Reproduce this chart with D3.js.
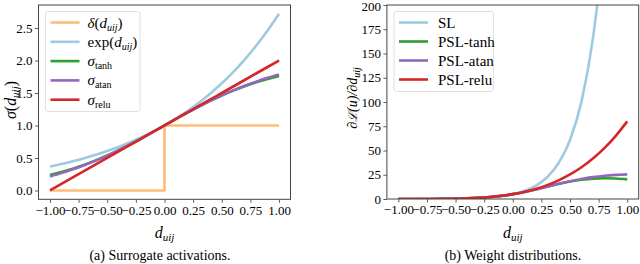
<!DOCTYPE html>
<html><head><meta charset="utf-8">
<script src="https://cdn.jsdelivr.net/npm/d3@7"></script>
<style>
body{margin:0;background:#fff;}
text{font-family:"Liberation Serif","DejaVu Serif",serif;fill:#000;}
</style></head>
<body><svg id="c" width="640" height="264"></svg>
<script>
// ---------- data ----------
const dVals = [-1.0,-0.9,-0.8,-0.7,-0.6,-0.5,-0.4,-0.3,-0.2,-0.1,0.0,0.1,0.2,0.3,0.4,0.5,0.6,0.7,0.8,0.9,1.0];
// left panel: surrogate activations
const stepX = [-1.0, 0.0, 0.0, 1.0];
const stepY = [0, 0, 1, 1];
const expVals  = [0.368,0.407,0.449,0.497,0.549,0.607,0.670,0.741,0.819,0.905,1.000,1.105,1.221,1.350,1.492,1.649,1.822,2.014,2.226,2.460,2.718];
const tanhVals = [0.238,0.284,0.336,0.396,0.463,0.538,0.620,0.709,0.803,0.900,1.000,1.100,1.197,1.291,1.380,1.462,1.537,1.604,1.664,1.716,1.762];
const atanVals = [0.215,0.267,0.325,0.389,0.460,0.536,0.620,0.708,0.803,0.900,1.000,1.100,1.197,1.292,1.381,1.464,1.540,1.611,1.675,1.733,1.785];
const reluVals = [0.0,0.1,0.2,0.3,0.4,0.5,0.6,0.7,0.8,0.9,1.0,1.1,1.2,1.3,1.4,1.5,1.6,1.7,1.8,1.9,2.0];
// right panel: weight distributions
const slW   = [0.034,0.056,0.092,0.151,0.249,0.410,0.677,1.116,1.839,3.033,5.0,8.24,13.59,22.41,36.95,60.9,100.4,165.6,273.0,450.0,742.0];
const tanhW = [0.007,0.016,0.036,0.078,0.164,0.330,0.633,1.154,2.00,3.25,5.0,7.24,9.88,12.72,15.51,17.97,19.86,21.03,21.43,21.12,20.22];
const atanW = [0.005,0.014,0.034,0.077,0.164,0.331,0.635,1.156,1.995,3.25,5.0,7.24,9.88,12.76,15.66,18.35,20.70,22.59,23.98,24.90,25.40];
const reluW = [0.0,0.0005,0.008,0.04,0.128,0.313,0.648,1.20,2.05,3.28,5.0,7.32,10.37,14.28,19.21,25.31,32.77,41.76,52.49,65.16,80.0];
const xTicks = [-1.0,-0.75,-0.5,-0.25,0.0,0.25,0.5,0.75,1.0];
const yTicksL = [0.0,0.5,1.0,1.5,2.0,2.5];
const yTicksR = [0,25,50,75,100,125,150,175,200];

const C = {step:"#ffbb78", exp:"#9ecae1", tanh:"#2ca02c", atan:"#9467bd", relu:"#d62728"};

const svg = d3.select("#c");

function panel(opt){
  const g = svg.append("g");
  const x = d3.scaleLinear().domain([-1.1,1.1]).range([opt.x0,opt.x1]);
  const y = d3.scaleLinear().domain(opt.ydom).range([opt.y1,opt.y0]);
  const cid = "clip"+opt.id;
  svg.append("clipPath").attr("id",cid).append("rect")
     .attr("x",opt.x0).attr("y",opt.y0).attr("width",opt.x1-opt.x0).attr("height",opt.y1-opt.y0);
  const lines = g.append("g").attr("clip-path",`url(#${cid})`);
  const line = d3.line().x(d=>x(d[0])).y(d=>y(d[1]));
  opt.series.forEach(s=>{
    const pts = s.xs.map((v,i)=>[v,s.ys[i]]);
    lines.append("path").datum(pts)
      .attr("d", line.curve(s.curve||d3.curveMonotoneX))
      .attr("fill","none").attr("stroke",s.color).attr("stroke-width",2.6)
      .attr("stroke-linejoin","round").attr("stroke-linecap","butt");
  });
  // axes
  const xa = g.append("g").attr("transform",`translate(0,${opt.y1})`)
    .call(d3.axisBottom(x).tickValues(xTicks).tickFormat(d3.format(".2f")).tickSizeInner(3.5).tickSizeOuter(0).tickPadding(2.5));
  const ya = g.append("g").attr("transform",`translate(${opt.x0},0)`)
    .call(d3.axisLeft(y).tickValues(opt.yticks).tickFormat(opt.yfmt).tickSizeInner(3.5).tickSizeOuter(0).tickPadding(2.5));
  [xa,ya].forEach(a=>{
    a.select(".domain").remove();
    a.selectAll("line").attr("stroke","#333").attr("stroke-width",0.8);
    a.selectAll("text").attr("font-size",13).attr("fill","#111");
  });
  // keep the top y tick label inside the picture
  ya.selectAll(".tick text").filter(d=>y(d) < opt.y0+4).attr("dy","0.45em");
  g.append("rect").attr("x",opt.x0).attr("y",opt.y0).attr("width",opt.x1-opt.x0).attr("height",opt.y1-opt.y0)
    .attr("fill","none").attr("stroke","#444").attr("stroke-width",1);
  // x label d_uij
  const xl = g.append("text").attr("x",(opt.x0+opt.x1)/2).attr("y",238).attr("text-anchor","middle")
    .attr("font-size",16).attr("font-style","italic");
  xl.append("tspan").text("d");
  xl.append("tspan").attr("font-size",11).attr("dy",3).text("uij");
  // legend
  const L = opt.legend;
  g.append("rect").attr("x",L.x).attr("y",L.y).attr("width",L.w).attr("height",L.h).attr("rx",2.5)
    .attr("fill","#fff").attr("fill-opacity",0.8).attr("stroke","#d8d8d8").attr("stroke-width",0.8);
  L.items.forEach((it,i)=>{
    const yy = L.y + L.first + i*L.gap;
    g.append("line").attr("x1",L.x+5).attr("x2",L.x+34).attr("y1",yy).attr("y2",yy)
      .attr("stroke",it.color).attr("stroke-width",2.6);
    const t = g.append("text").attr("x",L.x+L.tx).attr("y",yy+5).attr("font-size",15);
    it.label(t);
  });
  return g;
}

function sub(t, main, s, italicMain){
  t.append("tspan").attr("font-style",italicMain?"italic":null).text(main);
  t.append("tspan").attr("font-size",10).attr("dy",3).text(s);
}

panel({id:"L", x0:38.5, x1:290.5, y0:5, y1:199.3, ydom:[-0.1359,2.8541],
  yticks:yTicksL, yfmt:d3.format(".1f"),
  series:[
    {xs:stepX, ys:stepY, color:C.step, curve:d3.curveLinear},
    {xs:dVals, ys:expVals, color:C.exp},
    {xs:dVals, ys:tanhVals, color:C.tanh},
    {xs:dVals, ys:atanVals, color:C.atan},
    {xs:dVals, ys:reluVals, color:C.relu}
  ],
  legend:{x:45.5, y:11.5, w:94.5, h:100, first:11, gap:19.3, tx:42, items:[
    {color:C.step, label:t=>{t.append("tspan").attr("font-style","italic").text("δ");t.append("tspan").text("(");t.append("tspan").attr("font-style","italic").text("d");t.append("tspan").attr("font-size",10).attr("font-style","italic").attr("dy",3).text("uij");t.append("tspan").attr("dy",-3).text(")");}},
    {color:C.exp, label:t=>{t.append("tspan").text("exp(");t.append("tspan").attr("font-style","italic").text("d");t.append("tspan").attr("font-size",10).attr("font-style","italic").attr("dy",3).text("uij");t.append("tspan").attr("dy",-3).text(")");}},
    {color:C.tanh, label:t=>sub(t,"σ","tanh",true)},
    {color:C.atan, label:t=>sub(t,"σ","atan",true)},
    {color:C.relu, label:t=>sub(t,"σ","relu",true)}
  ]}
});

panel({id:"R", x0:386.9, x1:638.7, y0:5, y1:199, ydom:[0,200],
  yticks:yTicksR, yfmt:d3.format("d"),
  series:[
    {xs:dVals, ys:slW, color:C.exp},
    {xs:dVals, ys:tanhW, color:C.tanh},
    {xs:dVals, ys:atanW, color:C.atan},
    {xs:dVals, ys:reluW, color:C.relu}
  ],
  legend:{x:394, y:11.5, w:99.5, h:80, first:11, gap:19, tx:44, items:[
    {color:C.exp, label:t=>t.text("SL")},
    {color:C.tanh, label:t=>t.text("PSL-tanh")},
    {color:C.atan, label:t=>t.text("PSL-atan")},
    {color:C.relu, label:t=>t.text("PSL-relu")}
  ]}
});

// y labels
const yl = svg.append("text").attr("transform","translate(16,100) rotate(-90)").attr("text-anchor","middle").attr("font-size",16);
yl.append("tspan").attr("font-style","italic").text("σ");
yl.append("tspan").text("(");
yl.append("tspan").attr("font-style","italic").text("d");
yl.append("tspan").attr("font-style","italic").attr("font-size",11).attr("dy",3).text("uij");
yl.append("tspan").attr("dy",-3).text(")");

const yr = svg.append("text").attr("transform","translate(357,98) rotate(-90)").attr("text-anchor","middle").attr("font-size",14).attr("font-style","italic");
yr.append("tspan").text("∂");
yr.append("tspan").attr("font-family","DejaVu Serif, serif").attr("font-size",12).text("ℒ");
yr.append("tspan").text("(u)/∂d");
yr.append("tspan").attr("font-size",10).attr("dy",3).text("uij");
// fit the right label to the length seen in the reference
const len = yr.node().getComputedTextLength();
if (len > 72) yr.attr("font-size", 14*72/len);

// captions
svg.append("text").attr("x",160).attr("y",260).attr("text-anchor","middle").attr("font-size",14).text("(a) Surrogate activations.");
svg.append("text").attr("x",513).attr("y",260).attr("text-anchor","middle").attr("font-size",14).text("(b) Weight distributions.");
</script></body></html>
